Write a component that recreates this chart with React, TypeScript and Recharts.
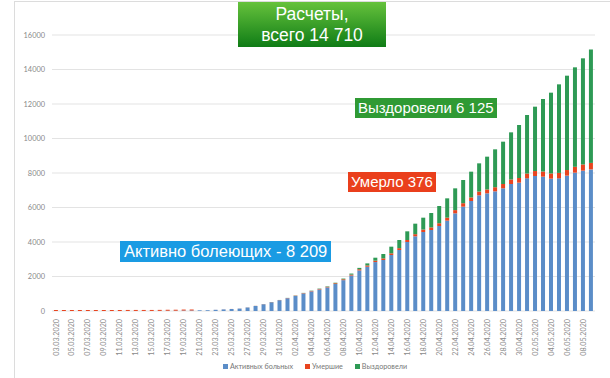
import { BarChart, Bar, XAxis, YAxis, CartesianGrid } from "recharts";

const dates = [
  "03.03.2020", "04.03.2020", "05.03.2020", "06.03.2020", "07.03.2020", "08.03.2020",
  "09.03.2020", "10.03.2020", "11.03.2020", "12.03.2020", "13.03.2020", "14.03.2020",
  "15.03.2020", "16.03.2020", "17.03.2020", "18.03.2020", "19.03.2020", "20.03.2020",
  "21.03.2020", "22.03.2020", "23.03.2020", "24.03.2020", "25.03.2020", "26.03.2020",
  "27.03.2020", "28.03.2020", "29.03.2020", "30.03.2020", "31.03.2020", "01.04.2020",
  "02.04.2020", "03.04.2020", "04.04.2020", "05.04.2020", "06.04.2020", "07.04.2020",
  "08.04.2020", "09.04.2020", "10.04.2020", "11.04.2020", "12.04.2020", "13.04.2020",
  "14.04.2020", "15.04.2020", "16.04.2020", "17.04.2020", "18.04.2020", "19.04.2020",
  "20.04.2020", "21.04.2020", "22.04.2020", "23.04.2020", "24.04.2020", "25.04.2020",
  "26.04.2020", "27.04.2020", "28.04.2020", "29.04.2020", "30.04.2020", "01.05.2020",
  "02.05.2020", "03.05.2020", "04.05.2020", "05.05.2020", "06.05.2020", "07.05.2020",
  "08.05.2020", "09.05.2020",
];

// активные
const active = [
  1, 1, 1, 1, 1, 1, 1, 1, 1, 3, 3, 3, 3, 7, 14, 16, 26, 29,
  40, 45, 70, 93, 116, 140, 203, 293, 390, 507, 625, 740, 873, 1016, 1138, 1248, 1368,
  1565, 1788, 2053, 2351, 2567, 2837,
  2957, 3246, 3536, 4000, 4329, 4580, 4696, 4928, 5237, 5662, 6048, 6377, 6705, 6821,
  6937, 7111, 7362, 7439, 7690, 7826, 7787, 7671, 7690, 7845, 8019, 8135, 8209,
];

// умершие
const dead = [
  0, 0, 0, 0, 0, 0, 0, 0, 0, 0, 0, 0, 0, 0, 0, 0, 0, 0,
  1, 1, 2, 3, 3, 4, 5, 5, 7, 9, 10, 13, 17, 22, 27, 32, 37, 45, 52, 57, 69, 73, 83,
  93, 98, 108, 116, 125, 141, 151, 161, 174, 187, 201, 209, 220, 225, 239, 250, 261,
  272, 279, 288, 298, 303, 316, 327, 340, 361, 376,
];

// выздоровели
const recovered = [
  0, 0, 0, 0, 0, 0, 0, 0, 0, 0, 0, 0, 0, 0, 0, 0, 0, 0,
  0, 1, 1, 1, 1, 1, 2, 2, 3, 4, 5, 7, 10, 12, 15, 20, 25, 30, 40, 60, 80, 120, 170,
  254, 385, 472, 503, 609, 689, 834, 998, 1120, 1262, 1345, 1491, 1635, 1901, 2196,
  2455, 2734, 3072, 3393, 3731, 4205, 4683, 5134, 5470, 5767, 6152, 6575,
];

const yTicks = [0, 2000, 4000, 6000, 8000, 10000, 12000, 14000, 16000];

const data = dates.map((d, i) => ({
  date: d,
  active: active[i],
  dead: dead[i],
  recovered: recovered[i],
}));

const BLUE = "#5b8dc8";
const RED = "#e8441f";
const GREEN = "#2e9a55";
const FONT = "Lato, 'Open Sans', sans-serif";

function DateTick({ x, y, payload }: any) {
  return (
    <text
      x={0}
      y={0}
      transform={`translate(${x},${y}) rotate(-90)`}
      textAnchor="end"
      dy="0.35em"
      fontSize={7.2}
      fontFamily={FONT}
      fill="#8a8a8a"
    >
      {payload.value}
    </text>
  );
}

const legendItems = [
  { name: "Активных больных", color: BLUE },
  { name: "Умершие", color: RED },
  { name: "Выздоровели", color: GREEN },
];

const boxText = {
  position: "absolute" as const,
  color: "#fff",
  fontFamily: "'Liberation Sans', Arial, sans-serif",
  fontSize: 15,
  lineHeight: "20px",
  whiteSpace: "nowrap" as const,
  textAlign: "center" as const,
};

export default function App() {
  return (
    <div
      style={{
        position: "absolute",
        left: 0,
        top: 0,
        width: 610,
        height: 378,
        background: "#fff",
        overflow: "hidden",
      }}
    >
      <div
        style={{
          position: "absolute",
          left: 14,
          top: 1,
          width: 620,
          height: 400,
          border: "1px solid #dcdcdc",
        }}
      />
      <BarChart
        width={610}
        height={378}
        data={data}
        margin={{ top: 35, right: 15, bottom: 0, left: 0 }}
        barCategoryGap="24%"
      >
        <CartesianGrid vertical={false} stroke="#e3e3e3" />
        <XAxis
          dataKey="date"
          interval={1}
          height={67}
          axisLine={false}
          tickLine={false}
          tick={<DateTick />}
        />
        <YAxis
          width={52}
          domain={[0, 16000]}
          ticks={yTicks}
          axisLine={false}
          tickLine={false}
          tickMargin={1}
          tick={{ fontSize: 7.4, fill: "#8a8a8a", fontFamily: FONT }}
        />
        <Bar dataKey="active" stackId="a" fill={BLUE} isAnimationActive={false} />
        <Bar
          dataKey="dead"
          stackId="a"
          fill={RED}
          minPointSize={(v: number, i: number) => (i < 18 ? 1 : 0)}
          isAnimationActive={false}
        />
        <Bar dataKey="recovered" stackId="a" fill={GREEN} isAnimationActive={false} />
      </BarChart>

      <div
        style={{
          position: "absolute",
          top: 362,
          left: 0,
          width: 630,
          display: "flex",
          justifyContent: "center",
          gap: 12,
          fontFamily: FONT,
          fontSize: 7.2,
          color: "#777",
        }}
      >
        {legendItems.map((it) => (
          <div key={it.name} style={{ display: "flex", alignItems: "center", gap: 2 }}>
            <span style={{ width: 5, height: 5, background: it.color, display: "inline-block" }} />
            {it.name}
          </div>
        ))}
      </div>

      <div
        style={{
          ...boxText,
          left: 238,
          top: 2,
          width: 148,
          height: 45,
          fontSize: 17.5,
          lineHeight: "21px",
          paddingTop: 2,
          boxSizing: "border-box",
          background: "linear-gradient(#66c23c, #0f7c16)",
        }}
      >
        Расчеты,
        <br />
        всего 14 710
      </div>

      <div style={{ ...boxText, left: 355, top: 98, padding: "0 3px", background: "#2f9a34" }}>
        Выздоровели 6 125
      </div>

      <div style={{ ...boxText, left: 348, top: 172, padding: "0 3px", background: "#ea3f1c" }}>
        Умерло 376
      </div>

      <div
        style={{
          ...boxText,
          left: 120,
          top: 241,
          fontSize: 16.5,
          lineHeight: "21px",
          padding: "0 4px",
          background: "#1a9be3",
        }}
      >
        Активно болеющих - 8 209
      </div>
    </div>
  );
}
